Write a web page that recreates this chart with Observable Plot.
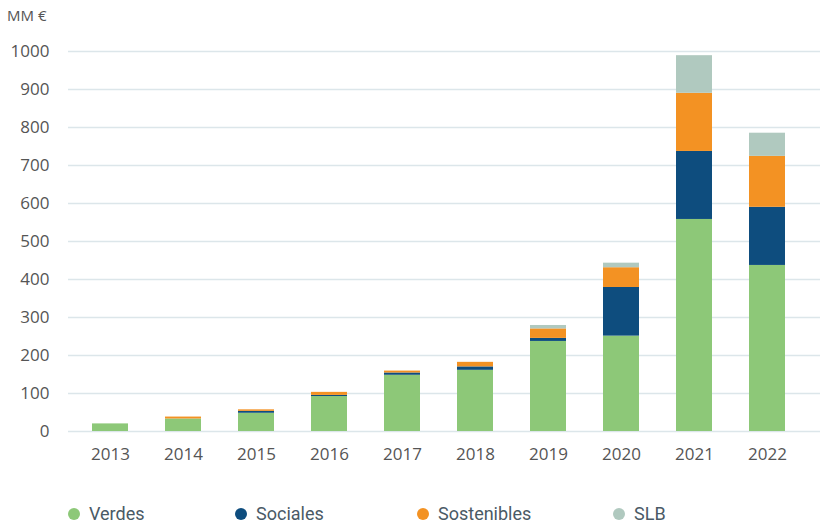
<!DOCTYPE html>
<html>
<head>
<meta charset="utf-8">
<script src="https://cdn.jsdelivr.net/npm/d3@7"></script>
<script src="https://cdn.jsdelivr.net/npm/@observablehq/plot@0.6"></script>
<style>
  html, body { margin: 0; padding: 0; background: #fff; }
  #wrap { position: relative; width: 820px; height: 529px; font-family: "Open Sans", sans-serif; color: #555; }
  #unit { position: absolute; left: 7px; top: 5px; font-size: 15px; color: #555; }
  #legend { position: absolute; top: 503px; left: 0; width: 820px; height: 26px; font-family: Roboto, sans-serif; font-size: 18px; color: #4a5a66; }
  .item { position: absolute; top: 0; display: flex; align-items: center; gap: 9px; }
  .dot { width: 12px; height: 12px; border-radius: 50%; display: inline-block; }
</style>
</head>
<body>
<div id="wrap">
  <div id="chart"></div>
  <div id="unit">MM €</div>
  <div id="legend"></div>
</div>
<script>
const years = ["2013","2014","2015","2016","2017","2018","2019","2020","2021","2022"];
const seriesNames = ["Verdes","Sociales","Sostenibles","SLB"];
const seriesColors = ["#8dc878","#0e4d7e","#f39223","#b0c9bf"];
const verdes      = [20, 33, 48, 92, 148, 161, 237, 251, 558, 437];
const sociales    = [0, 0, 5, 3, 6, 9, 8, 128, 179, 153];
const sostenibles = [0, 5, 4, 8, 5, 12, 25, 52, 153, 134];
const slb         = [0, 0, 0, 0, 0, 0, 9, 12, 99, 61];
const yTicks = [0,100,200,300,400,500,600,700,800,900,1000];
const legendX = [68, 235, 417, 613];

const seriesValues = [verdes, sociales, sostenibles, slb];
const rows = years.flatMap((yr, i) =>
  seriesNames.map((s, j) => ({year: yr, series: s, value: seriesValues[j][i]}))
);

const chart = Plot.plot({
  width: 820,
  height: 480,
  marginLeft: 68,
  marginRight: 0,
  marginTop: 51,
  marginBottom: 49,
  style: {fontFamily: "'Open Sans', sans-serif", fontSize: "17px", color: "#555", background: "#fff"},
  x: {domain: years, paddingInner: 0.503, paddingOuter: 0.371, align: 0.417, label: null},
  y: {domain: [0, 1000], label: null},
  color: {domain: seriesNames, range: seriesColors},
  marks: [
    Plot.ruleY(yTicks, {stroke: "#dce6ea", strokeWidth: 1.3}),
    Plot.barY(rows, Plot.stackY({x: "year", y: "value", fill: "series", order: seriesNames})),
    Plot.axisY(yTicks, {tickSize: 0, tickPadding: 19, fontSize: 17, color: "#555", label: null, tickFormat: d => String(d)}),
    Plot.axisX({tickSize: 0, tickPadding: 16, fontSize: 17, color: "#555", label: null})
  ]
});
document.getElementById("chart").appendChild(chart);

const legend = document.getElementById("legend");
seriesNames.forEach((name, i) => {
  const item = document.createElement("div");
  item.className = "item";
  item.style.left = legendX[i] + "px";
  const dot = document.createElement("span");
  dot.className = "dot";
  dot.style.background = seriesColors[i];
  const label = document.createElement("span");
  label.textContent = name;
  item.appendChild(dot);
  item.appendChild(label);
  legend.appendChild(item);
});
</script>
</body>
</html>
